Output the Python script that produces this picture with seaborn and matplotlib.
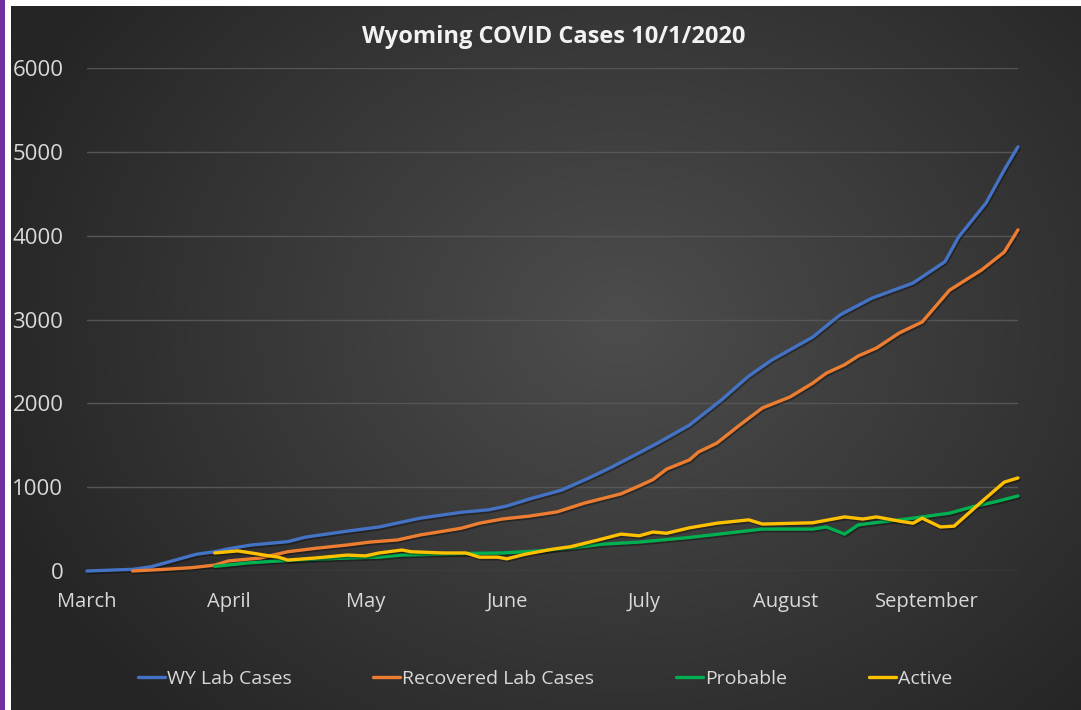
import numpy as np
import pandas as pd
import matplotlib
matplotlib.use("Agg")
import matplotlib.pyplot as plt
import matplotlib.patheffects as pe
from matplotlib.patches import Rectangle
import seaborn as sns

# ---------------- data (days since March 1, 2020) ----------------
lab_days = [0, 10, 14, 17, 20, 24, 28, 31, 36, 44, 48, 57, 64, 73, 82, 88, 92, 97, 104, 110,
            115, 121, 125, 132, 139, 145, 150, 159, 165, 172, 178, 181, 188, 191, 197, 201, 204]
lab_cases = [0, 20, 50, 95, 140, 200, 230, 265, 310, 350, 405, 475, 525, 630, 700, 730, 775, 860,
             965, 1110, 1240, 1410, 1525, 1740, 2040, 2325, 2515, 2790, 3055, 3255, 3375, 3435,
             3690, 3985, 4390, 4785, 5060]

rec_days = [10, 17, 23, 28, 31, 38, 44, 50, 57, 62, 68, 73, 77, 82, 86, 91, 97, 103, 109, 117,
            121, 124, 127, 132, 134, 138, 143, 148, 154, 159, 162, 166, 169, 173, 178, 183, 189,
            196, 201, 204]
rec_cases = [0, 20, 40, 70, 120, 155, 230, 270, 310, 345, 370, 430, 465, 510, 570, 620, 655, 705,
             810, 920, 1015, 1090, 1215, 1325, 1420, 1525, 1740, 1945, 2075, 2240, 2360, 2460,
             2565, 2660, 2840, 2970, 3350, 3590, 3805, 4070]

prob_days = [28, 35, 42, 50, 57, 64, 69, 77, 84, 91, 99, 106, 113, 121, 132, 140, 148, 159, 162,
             166, 169, 174, 178, 181, 189, 194, 199, 204]
prob_cases = [55, 95, 120, 140, 155, 165, 190, 200, 210, 215, 240, 275, 320, 345, 400, 450, 500,
              500, 525, 440, 550, 585, 610, 630, 690, 765, 825, 895]

act_days = [28, 33, 36, 40, 42, 44, 50, 57, 61, 64, 69, 71, 78, 83, 86, 90, 92, 96, 102, 106, 112,
            117, 121, 124, 127, 132, 138, 145, 148, 159, 166, 170, 173, 178, 181, 183, 187, 190,
            196, 201, 204]
act_cases = [215, 240, 215, 180, 165, 130, 155, 190, 180, 215, 250, 230, 215, 215, 165, 165, 145,
             200, 260, 290, 370, 440, 420, 465, 450, 515, 570, 610, 560, 575, 645, 620, 645, 595,
             570, 630, 525, 535, 825, 1060, 1110]

series_names = ["WY Lab Cases", "Recovered Lab Cases", "Probable", "Active"]
series_colors = ["#4472C4", "#ED7D31", "#00B050", "#FFC000"]
month_days = [0, 31, 61, 92, 122, 153, 184]
month_labels = ["March", "April", "May", "June", "July", "August", "September"]
y_ticks = [0, 1000, 2000, 3000, 4000, 5000, 6000]
title = "Wyoming COVID Cases 10/1/2020"

# ---------------- figure ----------------
sns.set_theme(style="white")
plt.rcParams["font.family"] = ["Open Sans", "DejaVu Sans"]

W, H = 1081, 710
fig = plt.figure(figsize=(W / 100, H / 100), dpi=100)
fig.patch.set_facecolor("white")

# purple strip on the left
fig.patches.append(Rectangle((0, 0), 5 / W, 1, transform=fig.transFigure,
                             facecolor="#7030A0", edgecolor="none", zorder=0))

# dark radial-gradient background
bg = fig.add_axes([11 / W, 0, 1 - 11 / W, 1 - 6 / H], zorder=0)
ny, nx = 300, 450
yy, xx = np.mgrid[0:1:ny * 1j, 0:1:nx * 1j]
cx, cy = 0.57, 0.55
r = np.sqrt(((xx - cx) * 1.25) ** 2 + ((yy - cy) * 1.0) ** 2)
t = np.clip(r / 0.78, 0, 1)
c_in = np.array([0x4d, 0x4d, 0x4d]) / 255
c_out = np.array([0x25, 0x25, 0x25]) / 255
img = c_in[None, None, :] * (1 - t[..., None]) + c_out[None, None, :] * t[..., None]
bg.imshow(img, aspect="auto", extent=[0, 1, 0, 1], origin="lower", interpolation="bilinear")
bg.set_axis_off()

ax = fig.add_axes([87 / W, 1 - 571 / H, (1018 - 87) / W, (571 - 68) / H], zorder=1)
ax.set_facecolor("none")

shadow = [pe.SimpleLineShadow(offset=(0.8, -1.2), shadow_color="black", alpha=0.35), pe.Normal()]
all_days = [lab_days, rec_days, prob_days, act_days]
all_vals = [lab_cases, rec_cases, prob_cases, act_cases]
for name, color, d, v in zip(series_names, series_colors, all_days, all_vals):
    df = pd.DataFrame({"day": d, "cases": v})
    sns.lineplot(data=df, x="day", y="cases", ax=ax, color=color, linewidth=2.4,
                 label=name, legend=False, clip_on=False, path_effects=shadow, zorder=3)

ax.set_xlim(0, 204)
ax.set_ylim(0, 6000)
ax.set_xticks(month_days)
ax.set_xticklabels(month_labels)
ax.set_yticks(y_ticks)
ax.set_yticklabels([str(v) for v in y_ticks])
ax.set_xlabel("")
ax.set_ylabel("")
for s in ax.spines.values():
    s.set_visible(False)
ax.yaxis.grid(True, color="#565656", linewidth=1.0)
ax.xaxis.grid(False)
ax.set_axisbelow(True)
ax.tick_params(axis="both", length=0, colors="#d9d9d9")
ax.tick_params(axis="y", pad=17, labelsize=16)
ax.tick_params(axis="x", pad=15, labelsize=14.5)

fig.text(554 / W, 1 - 37 / H, title, ha="center", va="center", color="#f2f2f2",
         fontsize=17, fontweight="bold")

handles, labels = ax.get_legend_handles_labels()
leg = fig.legend(handles, labels, loc="center", bbox_to_anchor=(545 / W, 1 - 679 / H),
                 ncol=4, frameon=False, fontsize=14, handlelength=1.4, handletextpad=0.1,
                 columnspacing=4.2, labelcolor="#d9d9d9")
for line in leg.get_lines():
    line.set_linewidth(2.4)
    line.set_path_effects([])

fig.savefig("out.png", dpi=100, facecolor=fig.get_facecolor())
